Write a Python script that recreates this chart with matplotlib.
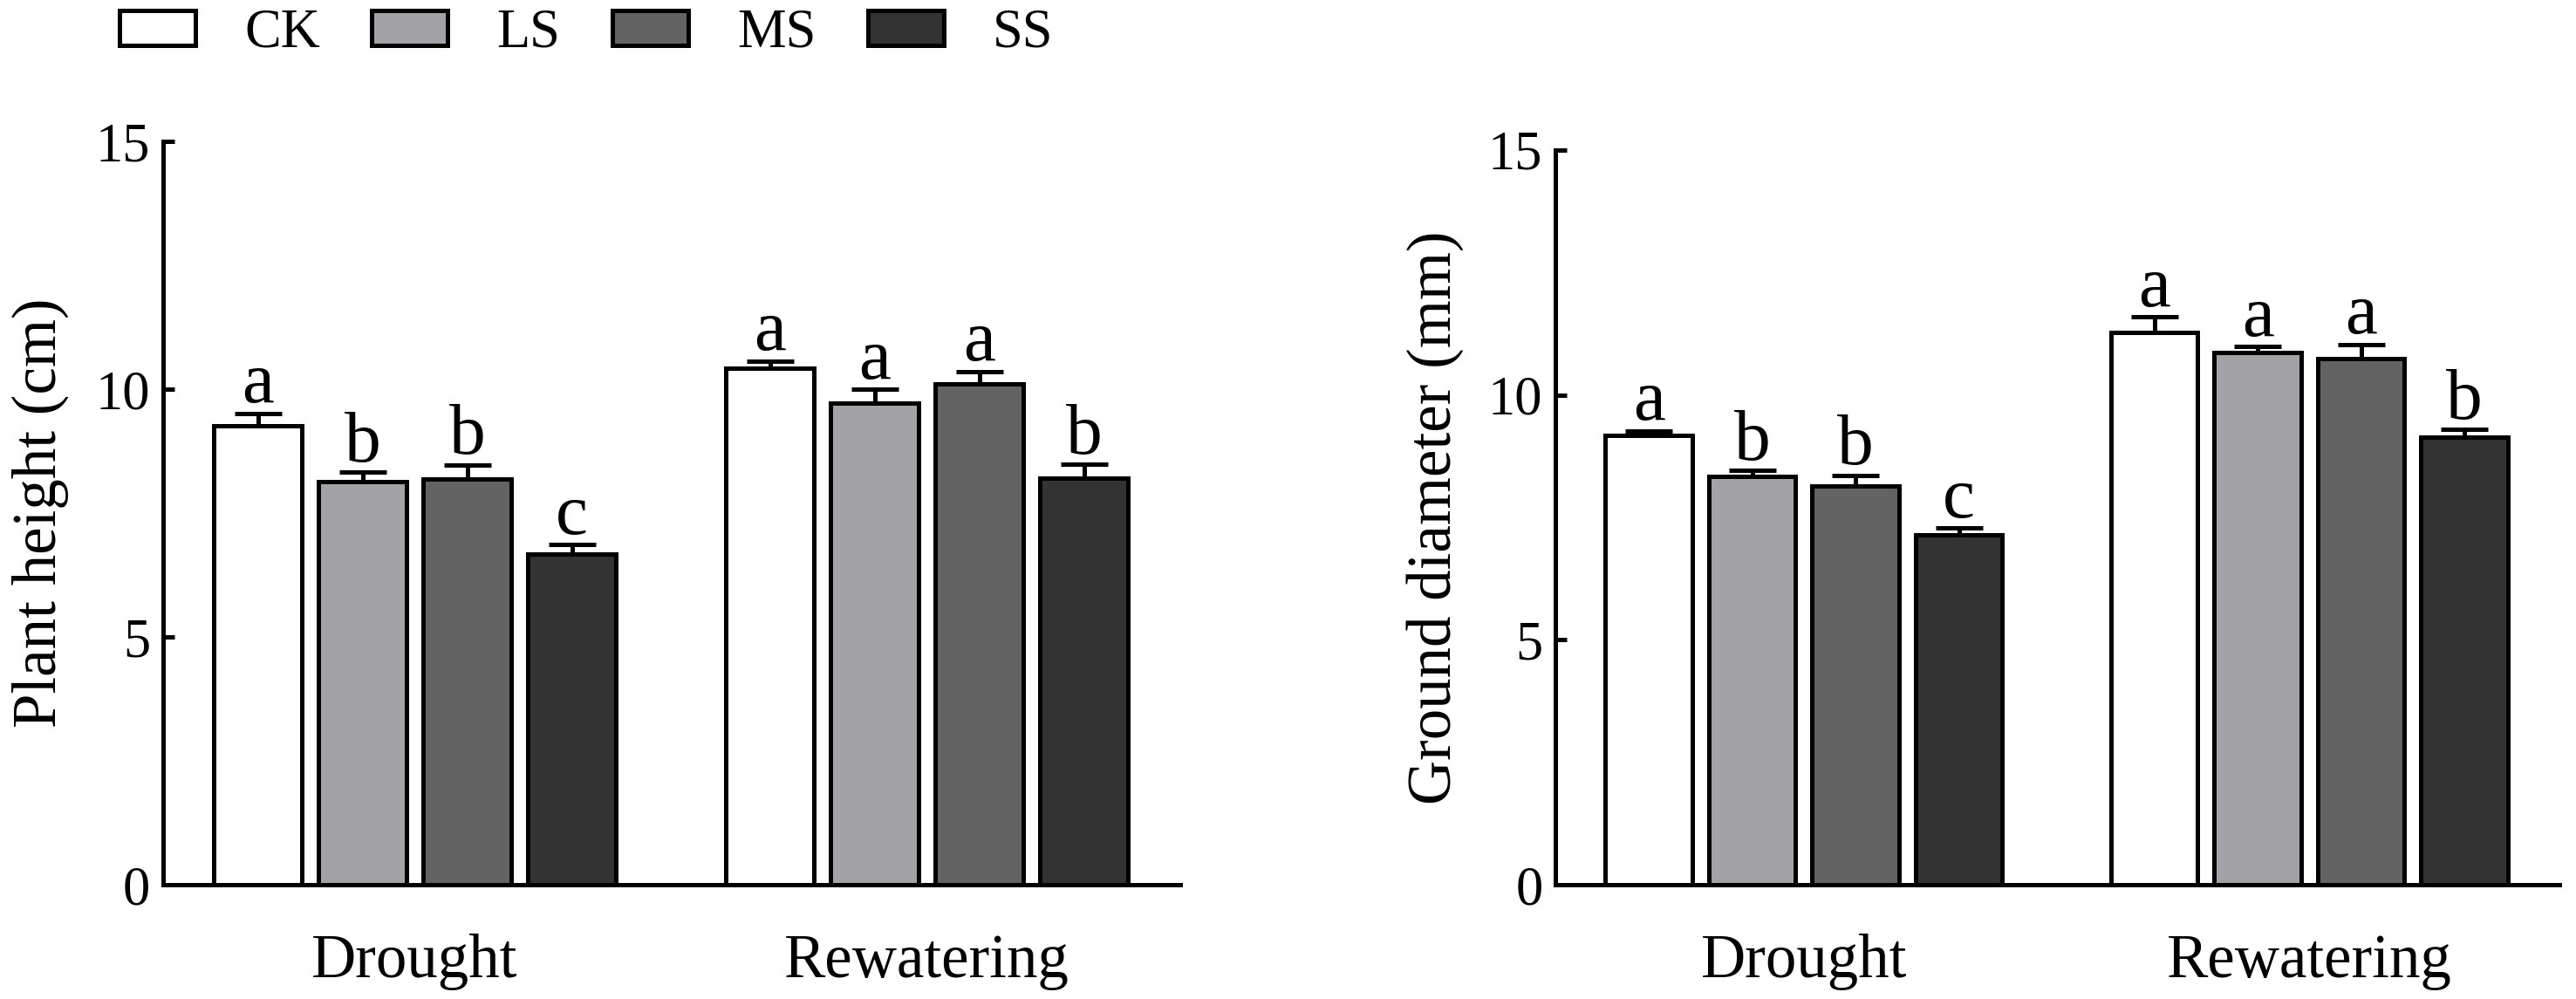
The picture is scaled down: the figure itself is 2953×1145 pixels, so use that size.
import numpy as np
import matplotlib
matplotlib.use('Agg')
import matplotlib.pyplot as plt

plt.rcParams['font.family'] = 'serif'
plt.rcParams['font.serif'] = ['Liberation Serif', 'Times New Roman', 'DejaVu Serif']

# Данные (средние и ошибки)
groups = ['Drought', 'Rewatering']
treatments = ['CK', 'LS', 'MS', 'SS']
colors = ['#ffffff', '#a3a2a7', '#636363', '#333333']

height_drought = [9.26, 8.13, 8.19, 6.67]
height_drought_se = [0.25, 0.19, 0.28, 0.19]
height_rewater = [10.42, 9.72, 10.10, 8.21]
height_rewater_se = [0.15, 0.28, 0.26, 0.27]
height_letters = ['a', 'b', 'b', 'c', 'a', 'a', 'a', 'b']

diam_drought = [9.17, 8.33, 8.14, 7.15]
diam_drought_se = [0.10, 0.13, 0.22, 0.13]
diam_rewater = [11.28, 10.86, 10.75, 9.13]
diam_rewater_se = [0.31, 0.13, 0.28, 0.17]
diam_letters = ['a', 'b', 'b', 'c', 'a', 'a', 'a', 'b']

lw = 1.2
gap = 4.89  # смещение второй группы


def draw(ax, m1, s1, m2, s2, letters, ylabel, lpad):
    x = np.concatenate([np.arange(4), np.arange(4) + gap])
    means = np.array(m1 + m2)
    ses = np.array(s1 + s2)
    cols = colors + colors
    bars = []
    for i in range(8):
        b = ax.bar(x[i], means[i], width=0.84, color=cols[i], edgecolor='black',
                   linewidth=lw, zorder=2)
        bars.append(b)
    # только верхняя половина планки погрешности
    ax.errorbar(x, means, yerr=[np.zeros(8), ses], fmt='none', ecolor='black',
                elinewidth=lw, capsize=6.5, capthick=lw, zorder=1)
    for xi, yi, si, t in zip(x, means, ses, letters):
        ax.text(xi, yi + si + 0.22, t, ha='center', va='baseline', fontsize=20)
    ax.set_xlim(-0.905, 8.81)
    ax.set_ylim(0, 15)
    ax.set_yticks([0, 5, 10, 15])
    ax.set_xticks([1.5, 1.5 + gap])
    ax.set_xticklabels(groups, fontsize=17)
    ax.tick_params(axis='x', length=0, pad=13.5)
    ax.tick_params(axis='y', direction='in', length=3.2, width=lw, labelsize=15, pad=3.5)
    for s in ['top', 'right']:
        ax.spines[s].set_visible(False)
    for s in ['left', 'bottom']:
        ax.spines[s].set_linewidth(lw)
    ax.set_ylabel(ylabel, fontsize=17, labelpad=lpad)
    return bars


fig = plt.figure(figsize=(2953 / 300, 1145 / 300), dpi=300)
ax1 = fig.add_axes([0.0633, 0.1144, 0.3949, 0.7441])
ax2 = fig.add_axes([0.6038, 0.1144, 0.3898, 0.7354])

bars = draw(ax1, height_drought, height_drought_se, height_rewater, height_rewater_se,
            height_letters, 'Plant height (cm)', 7.5)
draw(ax2, diam_drought, diam_drought_se, diam_rewater, diam_rewater_se,
     diam_letters, 'Ground diameter (mm)', 6.6)

fig.legend(handles=[b[0] for b in bars[:4]], labels=treatments, ncol=4,
           loc='center left', bbox_to_anchor=(0.0464, 0.966), frameon=False,
           fontsize=15, handlelength=1.39, handleheight=0.6, handletextpad=0.9,
           columnspacing=0.95, borderpad=0, borderaxespad=0)

fig.savefig('out.png', dpi=300)
